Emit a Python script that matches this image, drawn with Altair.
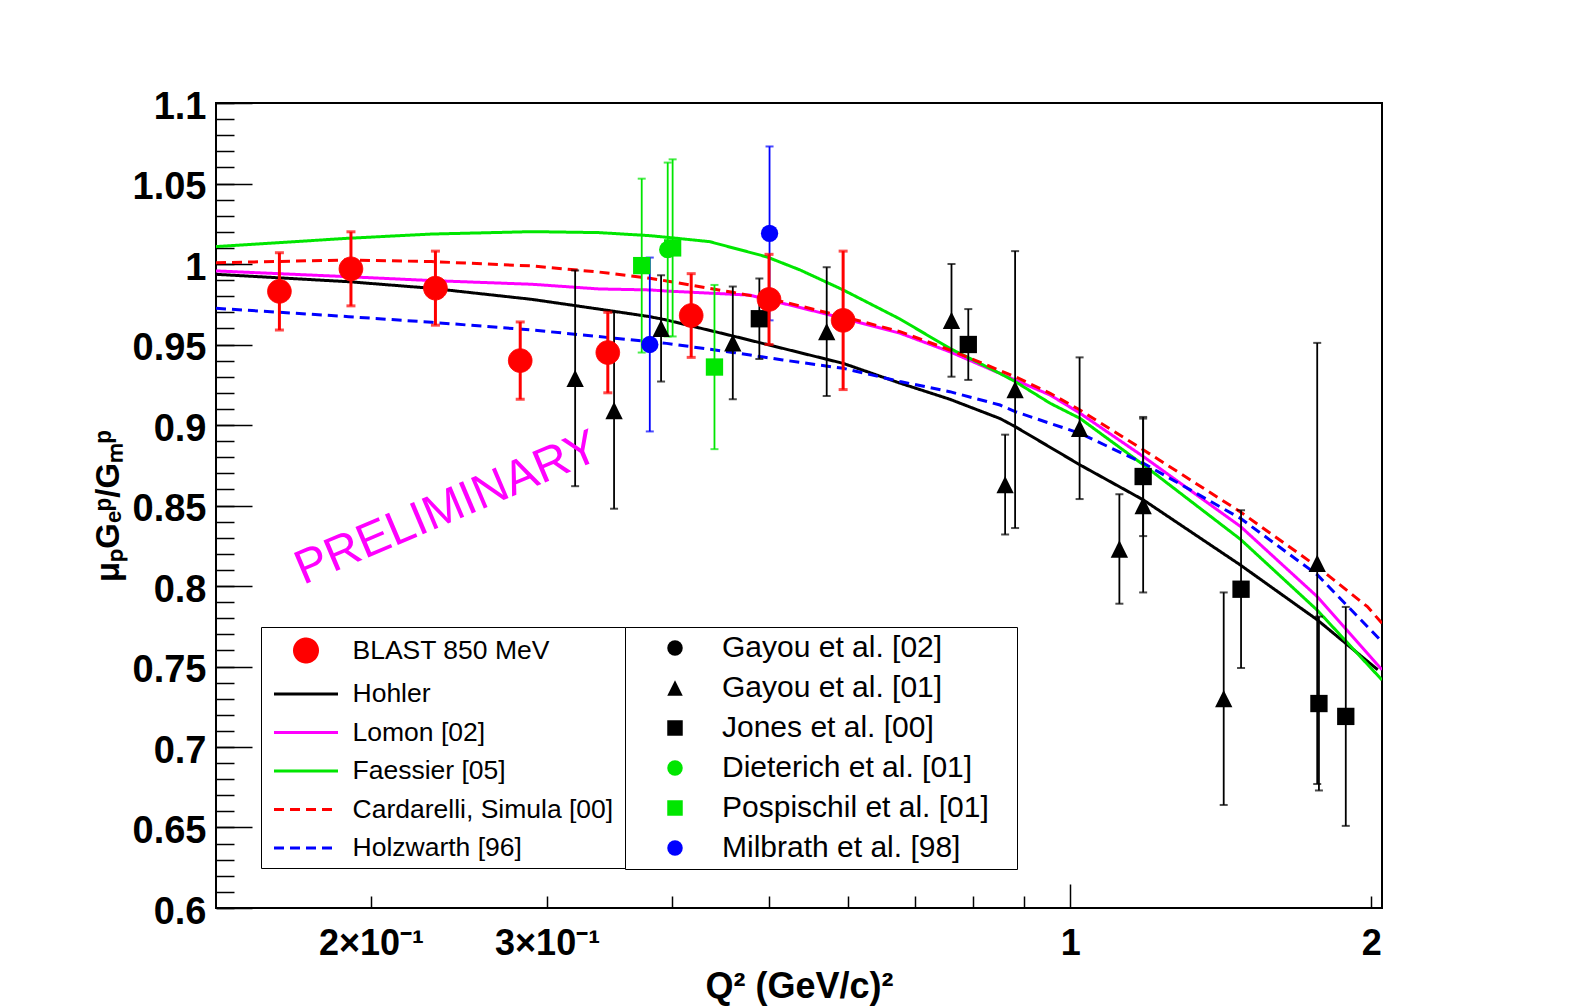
import math
import altair as alt
import pandas as pd

# ------------------------------------------------------------------ data ----
SERIES_NAMES = ["BLAST 850 MeV", "Hohler", "Lomon [02]", "Faessier [05]",
                "Cardarelli, Simula [00]", "Holzwarth [96]"]
BLAST = SERIES_NAMES[0]

blast_q2 = [0.162, 0.191, 0.232, 0.282, 0.345, 0.418, 0.500, 0.593]
blast_r = [0.983, 0.997, 0.985, 0.940, 0.945, 0.968, 0.978, 0.965]
blast_err = [0.024, 0.023, 0.023, 0.024, 0.025, 0.026, 0.028, 0.043]

hohler_q2 = [0.140, 0.190, 0.230, 0.290, 0.338, 0.380, 0.395, 0.460, 0.516, 0.593,
             0.676, 0.758, 0.851, 0.881, 1.023, 1.184, 1.480, 1.766, 1.877, 2.030]
hohler_r = [0.9936, 0.9890, 0.9849, 0.9780, 0.9720, 0.9673, 0.9652, 0.9553, 0.9476, 0.9383,
            0.9260, 0.9160, 0.9040, 0.8990, 0.8752, 0.8534, 0.8130, 0.7790, 0.7654, 0.7480]

lomon_q2 = [0.140, 0.190, 0.230, 0.290, 0.338, 0.380, 0.395, 0.478, 0.516, 0.593,
            0.676, 0.758, 0.851, 0.955, 1.023, 1.184, 1.480, 1.766, 2.050]
lomon_r = [0.9957, 0.9921, 0.9897, 0.9874, 0.9845, 0.9839, 0.9832, 0.9807, 0.9756, 0.9663,
           0.9570, 0.9455, 0.9320, 0.9186, 0.9073, 0.8803, 0.8370, 0.7934, 0.7480]

faessier_q2 = [0.140, 0.190, 0.230, 0.290, 0.338, 0.380, 0.395, 0.436, 0.497, 0.537, 0.593,
               0.676, 0.758, 0.851, 0.881, 0.955, 1.023, 1.184, 1.480, 1.766, 2.050]
faessier_r = [1.0108, 1.0160, 1.0186, 1.0201, 1.0195, 1.0176, 1.0166, 1.0139, 1.0045, 0.9963, 0.9839,
              0.9658, 0.9476, 0.9320, 0.9270, 0.9135, 0.9041, 0.8752, 0.8290, 0.7850, 0.7416]

cardarelli_q2 = [0.140, 0.190, 0.230, 0.290, 0.338, 0.380, 0.395, 0.460, 0.516, 0.593,
                 0.676, 0.758, 0.881, 0.955, 1.023, 1.184, 1.480, 1.766, 1.982, 2.050]
cardarelli_r = [1.0008, 1.0025, 1.0015, 0.9988, 0.9950, 0.9911, 0.9895, 0.9824, 0.9766, 0.9673,
                0.9580, 0.9466, 0.9300, 0.9197, 0.9093, 0.8845, 0.8460, 0.8120, 0.7872, 0.7768]

holzwarth_q2 = [0.140, 0.190, 0.230, 0.290, 0.338, 0.380, 0.395, 0.460, 0.516, 0.593,
                0.676, 0.758, 0.851, 0.881, 0.955, 1.023, 1.184, 1.480, 1.766, 2.050]
holzwarth_r = [0.9725, 0.9673, 0.9638, 0.9590, 0.9549, 0.9517, 0.9507, 0.9451, 0.9404, 0.9352,
               0.9270, 0.9207, 0.9124, 0.9083, 0.9010, 0.8948, 0.8762, 0.8420, 0.8070, 0.7654]

DATASET_NAMES = ["Gayou et al. [02]", "Gayou et al. [01]", "Jones et al. [00]",
                 "Dieterich et al. [01]", "Pospischil et al. [01]", "Milbrath et al. [98]"]

gayou02_q2, gayou02_r, gayou02_err = [], [], []
gayou01_q2 = [0.320, 0.350, 0.390, 0.460, 0.571, 0.761, 0.861, 0.881, 1.022, 1.120, 1.183, 1.424, 1.766]
gayou01_r = [0.929, 0.909, 0.960, 0.951, 0.958, 0.965, 0.863, 0.922, 0.898, 0.823, 0.850, 0.730, 0.814]
gayou01_err = [0.067, 0.061, 0.033, 0.035, 0.040, 0.035, 0.031, 0.086, 0.044, 0.034, 0.054, 0.066, 0.137]
jones_q2 = [0.489, 0.791, 1.183, 1.482, 1.773, 1.886]
jones_r = [0.966, 0.950, 0.868, 0.798, 0.727, 0.719]
jones_err = [0.025, 0.022, 0.037, 0.049, 0.054, 0.068]
dieterich_q2 = [0.396]
dieterich_r = [1.009]
dieterich_err = [0.054]
pospischil_q2 = [0.373, 0.4005, 0.441]
pospischil_r = [0.999, 1.010, 0.936]
pospischil_err = [0.054, 0.055, 0.051]
milbrath_q2 = [0.380, 0.5006]
milbrath_r = [0.950, 1.019]
milbrath_err = [0.054, 0.054]

# axis ticks and labels
x_label_vals = [0.2, 0.3, 1, 2]
x_label_text = ["2×10⁻¹", "3×10⁻¹", "1", "2"]
x_small_ticks = [0.2, 0.3, 0.4, 0.5, 0.6, 0.7, 0.8, 0.9, 2]
x_big_ticks = [1]
y_major = [0.6, 0.65, 0.7, 0.75, 0.8, 0.85, 0.9, 0.95, 1.0, 1.05, 1.1]
y_minor = [round(0.6 + 0.01 * i, 2) for i in range(51)]

annot_q2 = [0.2384]
annot_r = [0.848]
annot_text = ["PRELIMINARY"]

# ---------------------------------------------------------------- styles ----
FONT = "Liberation Sans"
GREEN = "#00e600"
series_colors = ["#ff0000", "#000000", "#ff00ff", GREEN, "#ff0000", "#0000ff"]
series_dash = [[1, 0], [1, 0], [1, 0], [1, 0], [10, 6], [10, 6]]
TRIANGLE = "M0,-1L-1,1L1,1Z"
dataset_shapes = ["circle", TRIANGLE, "square", "circle", "square", "circle"]
dataset_colors = ["#000000", "#000000", "#000000", GREEN, GREEN, "#0000ff"]


def circle_path(r, n=36):
    pts = [(r * math.cos(2 * math.pi * k / n), r * math.sin(2 * math.pi * k / n)) for k in range(n)]
    return "M" + "L".join(f"{x:.3f},{y:.3f}" for x, y in pts) + "Z"


LINE_SYMBOL = "M-2,0L2,0"
BLAST_SYMBOL = circle_path(0.72)
series_shapes = [BLAST_SYMBOL] + [LINE_SYMBOL] * 5

# ------------------------------------------------------------ dataframes ----
curve_lists = [(SERIES_NAMES[1], hohler_q2, hohler_r), (SERIES_NAMES[2], lomon_q2, lomon_r),
               (SERIES_NAMES[3], faessier_q2, faessier_r), (SERIES_NAMES[4], cardarelli_q2, cardarelli_r),
               (SERIES_NAMES[5], holzwarth_q2, holzwarth_r)]
curves_df = pd.DataFrame([{"series": n, "q2": q, "r": r} for n, qs, rs in curve_lists for q, r in zip(qs, rs)])

blast_df = pd.DataFrame({"series": BLAST, "q2": blast_q2, "r": blast_r,
                         "lo": [r - e for r, e in zip(blast_r, blast_err)],
                         "hi": [r + e for r, e in zip(blast_r, blast_err)]})
blast_caps_df = pd.concat([blast_df[["q2", "lo"]].rename(columns={"lo": "v"}),
                           blast_df[["q2", "hi"]].rename(columns={"hi": "v"})])

data_lists = [(DATASET_NAMES[0], gayou02_q2, gayou02_r, gayou02_err),
              (DATASET_NAMES[1], gayou01_q2, gayou01_r, gayou01_err),
              (DATASET_NAMES[2], jones_q2, jones_r, jones_err),
              (DATASET_NAMES[3], dieterich_q2, dieterich_r, dieterich_err),
              (DATASET_NAMES[4], pospischil_q2, pospischil_r, pospischil_err),
              (DATASET_NAMES[5], milbrath_q2, milbrath_r, milbrath_err)]
data_df = pd.DataFrame([{"dataset": n, "q2": q, "r": r, "lo": r - e, "hi": r + e}
                        for n, qs, rs, es in data_lists for q, r, e in zip(qs, rs, es)])
data_caps_df = pd.concat([data_df[["dataset", "q2", "lo"]].rename(columns={"lo": "v"}),
                          data_df[["dataset", "q2", "hi"]].rename(columns={"hi": "v"})])

annot_df = pd.DataFrame({"q2": annot_q2, "r": annot_r, "label": annot_text})

# ---------------------------------------------------------------- scales ----
x_scale = alt.Scale(type="log", domain=[0.14, 2.05], nice=False)
y_scale = alt.Scale(domain=[0.6, 1.1], nice=False, zero=False)


def s_scale(rng):
    return alt.Scale(domain=SERIES_NAMES, range=rng)


def d_scale(rng):
    return alt.Scale(domain=DATASET_NAMES, range=rng)


# ------------------------------------------------------------------ axes ----
x_label_expr = " : ".join(f"abs(datum.value - {v}) < 1e-9 ? '{t}'"
                          for v, t in zip(x_label_vals, x_label_text)) + " : ''"

ax_x_labels = alt.Axis(orient="bottom", values=x_label_vals, labelExpr=x_label_expr, ticks=False,
                       domain=False, grid=False, labelFont=FONT, labelFontWeight="bold", labelFontSize=36,
                       labelColor="black", labelPadding=18, labelOverlap=False, labelFlush=False,
                       title="Q² (GeV/c)²", titleFont=FONT, titleFontWeight="bold", titleFontSize=36,
                       titleColor="black", titlePadding=8)
ax_x_small = alt.Axis(orient="bottom", values=x_small_ticks, offset=-12, tickSize=12, tickWidth=1.5,
                      tickColor="black", labels=False, domain=False, grid=False, title=None)
ax_x_big = alt.Axis(orient="bottom", values=x_big_ticks, offset=-24, tickSize=24, tickWidth=1.5,
                    tickColor="black", labels=False, domain=False, grid=False, title=None)
ax_y_major = alt.Axis(orient="left", values=y_major, format=".2~f", offset=-36, tickSize=36, tickWidth=1.5,
                      tickColor="black", domain=False, grid=False, labelFont=FONT, labelFontWeight="bold",
                      labelFontSize=38, labelColor="black", labelPadding=10, labelOffset=4,
                      labelOverlap=False, labelFlush=False, title="μₚGₑᵖ/Gₘᵖ", titleFont=FONT,
                      titleFontWeight="bold", titleFontSize=33, titleColor="black", titlePadding=7)
ax_y_minor = alt.Axis(orient="left", values=y_minor, offset=-18, tickSize=18, tickWidth=1.5,
                      tickColor="black", labels=False, domain=False, grid=False, title=None)

# --------------------------------------------------------------- legends ----
# a blank one-pixel title on the right side widens each box to the reference's
legend_left = alt.Legend(
    title=" ", titleOrient="right", titleFontSize=1, titlePadding=6,
    orient="none", legendX=45, legendY=524, direction="vertical",
    strokeColor="black", fillColor="white", padding=6, rowPadding=7.5,
    symbolSize=1024, symbolStrokeWidth=3, symbolOffset=21.5, symbolFillColor="#ff0000",
    labelOffset=29, labelFont=FONT, labelFontSize=26.5, labelColor="black", labelLimit=600,
)
legend_right = alt.Legend(
    title=" ", titleOrient="right", titleFontSize=1, titlePadding=22,
    orient="none", legendX=409, legendY=524, direction="vertical",
    strokeColor="black", fillColor="white", padding=6, rowPadding=10.0,
    symbolSize=240, symbolStrokeWidth=0, symbolOffset=29, symbolFillColor="#000000",
    labelOffset=32, labelFont=FONT, labelFontSize=30, labelColor="black", labelLimit=600,
)

# ---------------------------------------------------------------- layers ----
curves = alt.Chart(curves_df).mark_line(strokeWidth=3, clip=True).encode(
    x=alt.X("q2:Q", scale=x_scale, axis=ax_x_labels),
    y=alt.Y("r:Q", scale=y_scale, axis=ax_y_major),
    color=alt.Color("series:N", scale=s_scale(series_colors), legend=None),
    strokeDash=alt.StrokeDash("series:N", scale=s_scale(series_dash), legend=None),
)

data_err = alt.Chart(data_df).mark_rule(strokeWidth=1.8).encode(
    x=alt.X("q2:Q", scale=x_scale, axis=ax_x_small),
    y=alt.Y("lo:Q", scale=y_scale, axis=ax_y_minor),
    y2="hi:Q",
    stroke=alt.Stroke("dataset:N", scale=d_scale(dataset_colors), legend=None),
)

data_caps = alt.Chart(data_caps_df).mark_tick(orient="horizontal", size=8, thickness=2).encode(
    x=alt.X("q2:Q", scale=x_scale, axis=ax_x_big),
    y=alt.Y("v:Q", scale=y_scale, axis=None),
    fill=alt.Fill("dataset:N", scale=d_scale(dataset_colors), legend=None),
)

data_pts = alt.Chart(data_df).mark_point(filled=True, size=300, opacity=1).encode(
    x=alt.X("q2:Q", scale=x_scale, axis=None),
    y=alt.Y("r:Q", scale=y_scale, axis=None),
    shape=alt.Shape("dataset:N", scale=d_scale(dataset_shapes), legend=legend_right),
    fill=alt.Fill("dataset:N", scale=d_scale(dataset_colors), legend=legend_right),
)

blast_err = alt.Chart(blast_df).mark_rule(strokeWidth=3, color="#ff0000").encode(
    x=alt.X("q2:Q", scale=x_scale, axis=None),
    y=alt.Y("lo:Q", scale=y_scale, axis=None),
    y2="hi:Q",
)

blast_caps = alt.Chart(blast_caps_df).mark_tick(orient="horizontal", size=9, thickness=3,
                                                color="#ff0000").encode(
    x=alt.X("q2:Q", scale=x_scale, axis=None),
    y=alt.Y("v:Q", scale=y_scale, axis=None),
)

blast_pts = alt.Chart(blast_df).mark_point(filled=True, size=1080, opacity=1, strokeWidth=1).encode(
    x=alt.X("q2:Q", scale=x_scale, axis=None),
    y=alt.Y("r:Q", scale=y_scale, axis=None),
    shape=alt.Shape("series:N", scale=s_scale(series_shapes), legend=legend_left),
    fill=alt.Fill("series:N", scale=s_scale(series_colors), legend=legend_left),
    stroke=alt.Stroke("series:N", scale=s_scale(series_colors), legend=legend_left),
    strokeDash=alt.StrokeDash("series:N", scale=s_scale(series_dash), legend=legend_left),
)

annot = alt.Chart(annot_df).mark_text(font=FONT, fontSize=48, color="#ff00ff", angle=337,
                                      align="center", baseline="middle").encode(
    x=alt.X("q2:Q", scale=x_scale, axis=None),
    y=alt.Y("r:Q", scale=y_scale, axis=None),
    text="label:N",
)

chart = alt.layer(
    curves, data_err, data_caps, data_pts, blast_err, blast_caps, blast_pts, annot
).resolve_scale(
    fill="independent", stroke="independent", shape="independent", strokeDash="independent",
    color="independent",
).resolve_axis(
    x="independent", y="independent"
).properties(
    width=1166, height=805,
    autosize=alt.AutoSizeParams(type="none"),
    padding={"left": 216, "top": 103, "right": 204, "bottom": 100},
    background="white",
).configure_view(stroke="black", strokeWidth=2)

chart.save("out.html", embed_options={"renderer": "svg", "actions": False})
